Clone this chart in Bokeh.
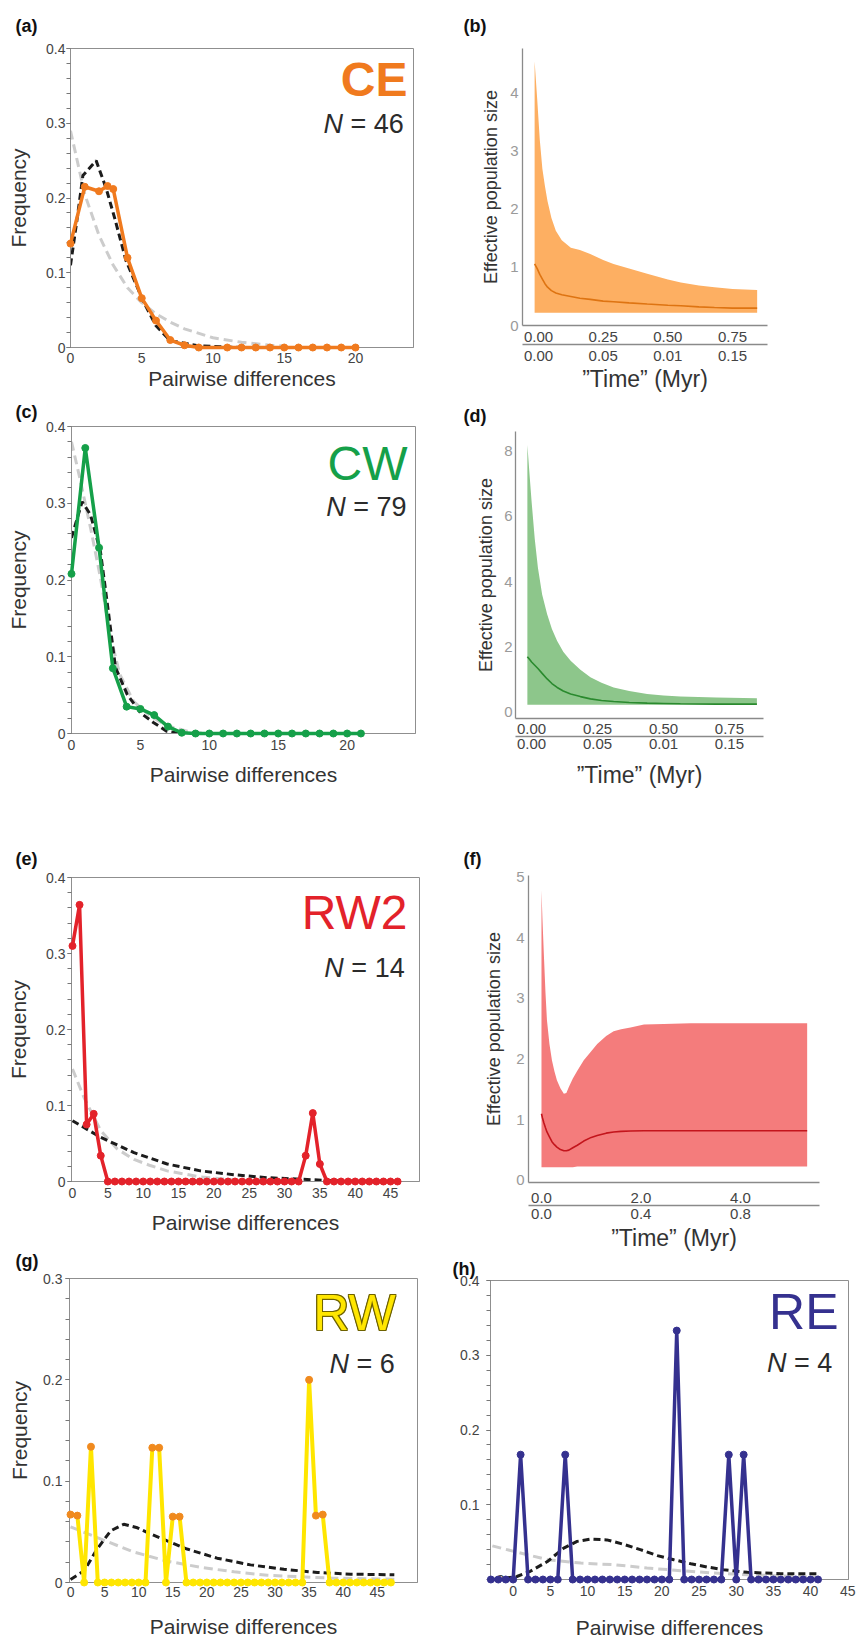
from bokeh.plotting import figure
from bokeh.layouts import row, column
from bokeh.models import Range1d, FixedTicker, LinearAxis, Label
from bokeh.embed import file_html
from bokeh.resources import INLINE

FONT = "Liberation Sans"

# ---------------- data: mismatch distributions ----------------
# (a) CE
ce_x = [0, 1, 2, 2.6, 3, 4, 5, 6, 7, 8, 9, 11, 12, 13, 14, 15, 16, 17, 18, 19, 20]
ce_y = [0.139, 0.215, 0.209, 0.216, 0.212, 0.12, 0.066, 0.036, 0.01, 0.003, 0.0,
        0, 0, 0, 0, 0, 0, 0, 0, 0, 0]
ce_sim_x = [0, 0.45, 0.87, 1.8, 2.5, 3.1, 3.9, 5.1, 6.0, 7.0, 9.1, 12.0]
ce_sim_y = [0.11, 0.17, 0.23, 0.25, 0.213, 0.173, 0.116, 0.062, 0.029, 0.009, 0.002, 0.0]
ce_con_x = [0, 1, 2, 3, 4, 5, 6, 7, 8, 10, 12, 14, 15]
ce_con_y = [0.29, 0.205, 0.15, 0.11, 0.08, 0.06, 0.045, 0.034, 0.025, 0.013, 0.007, 0.003, 0.002]

# (c) CW
cw_x = [0, 1, 2, 3, 4, 5, 6, 7, 8, 9, 10, 11, 12, 13, 14, 15, 16, 17, 18, 19, 20, 21]
cw_y = [0.208, 0.372, 0.242, 0.085, 0.035, 0.032, 0.024, 0.009, 0.001,
        0, 0, 0, 0, 0, 0, 0, 0, 0, 0, 0, 0, 0]
cw_sim_x = [0, 0.77, 1.38, 2.1, 2.58, 3.19, 4.04, 5.0, 5.97, 6.9, 7.9]
cw_sim_y = [0.255, 0.302, 0.285, 0.237, 0.172, 0.086, 0.051, 0.027, 0.014, 0.003, 0.0]
cw_con_x = [0, 0.6, 1.38, 2.1, 2.8, 3.5, 4.5, 5.7, 6.9, 8.4, 9.8]
cw_con_y = [0.38, 0.333, 0.268, 0.203, 0.129, 0.077, 0.042, 0.023, 0.01, 0.003, 0.0]

# (e) RW2
rw2_x = list(range(0, 47))
rw2_y = ([0.31, 0.364, 0.075, 0.089, 0.034] + [0] * 28 +
         [0.034, 0.09, 0.023] + [0] * 11)
rw2_sim_x = [0, 4, 8.7, 13.4, 18.1, 22.8, 27.5, 32.3, 37.0, 46]
rw2_sim_y = [0.08, 0.058, 0.038, 0.023, 0.014, 0.009, 0.005, 0.003, 0.001, 0.0]
rw2_con_x = [0, 1.65, 4, 6.3, 8.7, 11, 13.4, 18.1, 22.8, 27.5]
rw2_con_y = [0.148, 0.11, 0.067, 0.043, 0.029, 0.021, 0.014, 0.006, 0.002, 0.0]

# (g) RW
rw_x = list(range(0, 48))
rw_y = ([0.067, 0.066, 0, 0.134, 0] + [0] * 7 + [0.133, 0.133, 0, 0.065, 0.065, 0] +
        [0] * 17 + [0.2, 0.066, 0.067, 0] + [0] * 9)
rw_sim_x = [0, 2, 3.9, 5.9, 7.8, 9.8, 11.7, 14.2, 17.1, 21.5, 26.4, 31.3, 36.2, 41.1, 47.5]
rw_sim_y = [0.003, 0.0115, 0.033, 0.051, 0.0575, 0.054, 0.048, 0.041, 0.033, 0.024,
            0.0174, 0.013, 0.0099, 0.0082, 0.0076]
rw_con_x = [0, 4.4, 9.3, 14.2, 19.1, 24, 28.9, 33.8, 38.6, 47.5]
rw_con_y = [0.055, 0.043, 0.03, 0.021, 0.015, 0.0105, 0.0072, 0.0056, 0.0043, 0.0033]

# (h) RE
re_x = list(range(-3, 42))
re_y = ([0] * 4 + [0.167] + [0] * 5 + [0.167] + [0] * 14 + [0.333] + [0] * 6 +
        [0.167, 0, 0.167] + [0] * 10)
re_sim_x = [-2.6, 0.5, 2.3, 4.6, 6.8, 8.6, 10.4, 12.6, 14.9, 17.1, 19.4, 21.6, 23.9,
            26.1, 28.3, 31.5, 36, 41.1]
re_sim_y = [0.0, 0.004, 0.011, 0.024, 0.042, 0.051, 0.054, 0.053, 0.047, 0.040, 0.032,
            0.0265, 0.021, 0.0167, 0.0131, 0.0096, 0.0078, 0.0078]
re_con_x = [-2.8, 0.1, 4.6, 9.1, 13.5, 18, 22.5, 27, 31.5, 36, 41.1]
re_con_y = [0.045, 0.0376, 0.0265, 0.022, 0.0198, 0.0154, 0.0118, 0.0087, 0.0065, 0.0047, 0.0029]

# ---------------- data: Bayesian skyline plots ----------------
# (b) CE
b_time = [-0.015, -0.005, 0.005, 0.015, 0.025, 0.035, 0.05, 0.067, 0.09, 0.125, 0.16,
          0.2, 0.25, 0.29, 0.35, 0.42, 0.5, 0.55, 0.62, 0.68, 0.75, 0.845]
b_upper = [4.55, 3.9, 3.2, 2.7, 2.4, 2.14, 1.85, 1.63, 1.47, 1.34, 1.30,
           1.23, 1.13, 1.06, 0.98, 0.89, 0.79, 0.74, 0.69, 0.66, 0.63, 0.61]
b_median = [1.06, 0.98, 0.88, 0.80, 0.72, 0.66, 0.60, 0.56, 0.53, 0.50, 0.47,
            0.45, 0.42, 0.41, 0.39, 0.37, 0.35, 0.34, 0.32, 0.31, 0.30, 0.30]
b_lower = [0.22] * 22

# (d) CW
d_time = [-0.016, -0.008, 0.0, 0.012, 0.024, 0.04, 0.059, 0.077, 0.097, 0.12, 0.148,
          0.185, 0.223, 0.265, 0.311, 0.37, 0.438, 0.5, 0.564, 0.7, 0.854]
d_upper = [8.18, 7.3, 6.45, 5.3, 4.42, 3.6, 3.0, 2.55, 2.18, 1.85, 1.58,
           1.3, 1.07, 0.9, 0.76, 0.65, 0.56, 0.51, 0.48, 0.45, 0.43]
d_median = [1.70, 1.62, 1.54, 1.44, 1.34, 1.19, 1.02, 0.88, 0.76, 0.65, 0.56,
            0.48, 0.41, 0.36, 0.33, 0.30, 0.28, 0.27, 0.26, 0.25, 0.25]
d_lower = [0.23] * 21

# (f) RW2
f_time = [0.0, 0.02, 0.047, 0.08, 0.11, 0.16, 0.21, 0.26, 0.31, 0.38, 0.45, 0.5, 0.55,
          0.63, 0.72, 0.85, 1.0, 1.12, 1.3, 1.45, 1.6, 1.79, 2.06, 2.46, 3.0, 4.0, 5.34]
f_upper = [4.78, 4.3, 3.74, 3.1, 2.64, 2.25, 1.98, 1.8, 1.65, 1.52, 1.43, 1.44, 1.54,
           1.68, 1.81, 1.98, 2.13, 2.25, 2.38, 2.46, 2.49, 2.52, 2.57, 2.58, 2.59, 2.59, 2.59]
f_median = [1.10, 1.03, 0.95, 0.87, 0.80, 0.72, 0.64, 0.59, 0.55, 0.51, 0.49, 0.49, 0.50,
            0.54, 0.58, 0.65, 0.71, 0.74, 0.78, 0.80, 0.81, 0.815, 0.82, 0.82, 0.82, 0.82, 0.82]
f_lower = [0.22] * 14 + [0.23] * 13

# tick labels
b_ticks = [0, 0.25, 0.5, 0.75]
b_labels_top = ["0.00", "0.25", "0.50", "0.75"]
b_labels_bottom = ["0.00", "0.05", "0.01", "0.15"]
f_ticks = [0, 2, 4]
f_labels_top = ["0.0", "2.0", "4.0"]
f_labels_bottom = ["0.0", "0.4", "0.8"]

TIME_LABEL = "\u201dTime\u201d (Myr)"


def no_align(p):
    try:
        p.frame_align = False
    except Exception:
        pass


def style_title(p, tag, offset, standoff):
    p.title.text = tag
    p.title.text_font = FONT
    p.title.text_font_size = "18px"
    p.title.text_font_style = "bold"
    p.title.text_color = "#111111"
    p.title.align = "left"
    p.title.offset = offset
    p.title.standoff = standoff


def freq_panel(w, h, borders, xr, yr, xticks, yticks, tag, toff, tso,
               ytso, ylso, xtso, xlso, ylabel=True):
    bl, br, bt, bb = borders
    p = figure(width=w, height=h, x_range=Range1d(*xr), y_range=Range1d(*yr),
               output_backend="svg", toolbar_location=None,
               min_border_left=bl, min_border_right=br,
               min_border_top=bt, min_border_bottom=bb)
    no_align(p)
    p.grid.visible = False
    p.outline_line_color = "#8f8f8f"
    p.outline_line_width = 1
    p.background_fill_color = "white"
    p.border_fill_color = "white"
    style_title(p, tag, toff, tso)

    xa = p.xaxis[0]
    xa.ticker = FixedTicker(ticks=xticks)
    xa.major_tick_out = 0
    xa.major_tick_in = 0
    xa.minor_tick_out = 0
    xa.minor_tick_in = 0
    xa.axis_line_color = "#8f8f8f"
    xa.major_label_text_font = FONT
    xa.major_label_text_font_size = "14px"
    xa.major_label_text_color = "#444444"
    xa.major_label_standoff = xtso
    xa.axis_label = "Pairwise differences"
    xa.axis_label_text_font = FONT
    xa.axis_label_text_font_size = "21px"
    xa.axis_label_text_font_style = "normal"
    xa.axis_label_text_color = "#333333"
    xa.axis_label_standoff = xlso

    ya = p.yaxis[0]
    n_minor = int(round(yr[1] / 0.02))
    ya.ticker = FixedTicker(ticks=yticks, minor_ticks=[round(0.02 * i, 2) for i in range(n_minor + 1)])
    ya.major_tick_out = 4
    ya.major_tick_in = 0
    ya.minor_tick_out = 4
    ya.minor_tick_in = 0
    ya.major_tick_line_color = "#777777"
    ya.minor_tick_line_color = "#777777"
    ya.axis_line_color = "#8f8f8f"
    ya.major_label_text_font = FONT
    ya.major_label_text_font_size = "14px"
    ya.major_label_text_color = "#444444"
    ya.major_label_standoff = ytso
    ya.major_label_overrides = {0: "0"}
    if ylabel:
        ya.axis_label = "Frequency"
        ya.axis_label_text_font = FONT
        ya.axis_label_text_font_size = "21px"
        ya.axis_label_text_font_style = "normal"
        ya.axis_label_text_color = "#333333"
        ya.axis_label_standoff = ylso
    return p


def freq_lines(p, x, y, sx, sy, cx, cy, color, width=3.5, marker_colors=None):
    p.line(cx, cy, line_color="#cccccc", line_width=3, line_dash="9 5")
    p.line(sx, sy, line_color="#1c1c1c", line_width=3, line_dash="7 4")
    p.line(x, y, line_color=color, line_width=width, line_join="round", level="overlay")
    mc = color if marker_colors is None else marker_colors
    p.scatter(x, y, size=7, fill_color=mc, line_color=mc, level="overlay")


def pop_labels(p, name, color, pos, npos, n, size, bold=False, outline=None):
    x, y = pos
    style = "bold" if bold else "normal"
    if outline is not None:
        for dx, dy in [(-1, 0), (1, 0), (0, -1), (0, 1), (-1, -1), (1, 1), (-1, 1), (1, -1)]:
            p.add_layout(Label(x=x, y=y, x_offset=dx, y_offset=dy, text=name,
                               text_align="right", text_baseline="middle",
                               text_font=FONT, text_font_size=f"{size}px",
                               text_font_style=style, text_color=outline))
    p.add_layout(Label(x=x, y=y, text=name, text_align="right", text_baseline="middle",
                       text_font=FONT, text_font_size=f"{size}px",
                       text_font_style=style, text_color=color))
    nx, ny = npos
    fs = 27
    rest = f"= {n}"
    rest_w = fs * (0.584 + 0.278 + 0.556 * len(str(n)))
    p.add_layout(Label(x=nx, y=ny, text=rest, text_align="right", text_baseline="middle",
                       text_font=FONT, text_font_size=f"{fs}px", text_color="#2b2b2b"))
    p.add_layout(Label(x=nx, y=ny, x_offset=-(rest_w + 0.278 * fs), text="N",
                       text_align="right", text_baseline="middle",
                       text_font=FONT, text_font_size=f"{fs}px", text_font_style="italic",
                       text_color="#2b2b2b"))


def bsp_panel(w, h, borders, xr, yr, yticks, xticks, lab_top, lab_bot, tag, toff, tso,
              ytso, ylso, x1so, x2so, xlso, t, lo, up, med, fill, line):
    bl, br, bt, bb = borders
    p = figure(width=w, height=h, x_range=Range1d(*xr), y_range=Range1d(*yr),
               output_backend="svg", toolbar_location=None,
               min_border_left=bl, min_border_right=br,
               min_border_top=bt, min_border_bottom=bb)
    no_align(p)
    p.grid.visible = False
    p.outline_line_color = None
    style_title(p, tag, toff, tso)

    ya = p.yaxis[0]
    ya.ticker = FixedTicker(ticks=yticks)
    ya.major_tick_out = 0
    ya.major_tick_in = 0
    ya.minor_tick_out = 0
    ya.minor_tick_in = 0
    ya.axis_line_color = "#8a8a8a"
    ya.axis_line_width = 1.3
    ya.major_label_text_font = FONT
    ya.major_label_text_font_size = "15px"
    ya.major_label_text_color = "#9a9a9a"
    ya.major_label_standoff = ytso
    ya.axis_label = "Effective population size"
    ya.axis_label_text_font = FONT
    ya.axis_label_text_font_size = "18px"
    ya.axis_label_text_font_style = "normal"
    ya.axis_label_text_color = "#333333"
    ya.axis_label_standoff = ylso

    xa = p.xaxis[0]
    xa.ticker = FixedTicker(ticks=xticks)
    xa.major_label_overrides = dict(zip(xticks, lab_top))
    xa2 = LinearAxis(ticker=FixedTicker(ticks=xticks),
                     major_label_overrides=dict(zip(xticks, lab_bot)))
    p.add_layout(xa2, "below")
    for a, so in [(xa, x1so), (xa2, x2so)]:
        a.major_tick_out = 0
        a.major_tick_in = 0
        a.minor_tick_out = 0
        a.minor_tick_in = 0
        a.axis_line_color = "#8a8a8a"
        a.axis_line_width = 1.3
        a.major_label_text_font = FONT
        a.major_label_text_font_size = "15px"
        a.major_label_text_color = "#444444"
        a.major_label_standoff = so
    xa2.axis_label = TIME_LABEL
    xa2.axis_label_text_font = FONT
    xa2.axis_label_text_font_size = "23px"
    xa2.axis_label_text_font_style = "normal"
    xa2.axis_label_text_color = "#333333"
    xa2.axis_label_standoff = xlso

    p.varea(x=t, y1=lo, y2=up, fill_color=fill, fill_alpha=1.0)
    p.line(t, med, line_color=line, line_width=1.6)
    return p


LW, RWD = 430, 427

# ---------------- left column ----------------
pa = freq_panel(LW, 394, (70, 17, 47, 47), (0, 24.07), (0, 0.4), [0, 5, 10, 15, 20],
                [0, 0.1, 0.2, 0.3, 0.4], "(a)", -55, 26, 1, 13, 5, 1)
freq_lines(pa, ce_x, ce_y, ce_sim_x, ce_sim_y, ce_con_x, ce_con_y, "#F07A1E")
pop_labels(pa, "CE", "#F07A1E", (23.65, 0.359), (23.39, 0.299), 46, 48, bold=True)

pc = freq_panel(LW, 406, (71, 15, 31, 67), (0, 24.96), (0, 0.4), [0, 5, 10, 15, 20],
                [0, 0.1, 0.2, 0.3, 0.4], "(c)", -56, 10, 2, 13, 6, 10)
freq_lines(pc, cw_x, cw_y, cw_sim_x, cw_sim_y, cw_con_x, cw_con_y, "#15A049")
pop_labels(pc, "CW", "#15A049", (24.38, 0.352), (24.31, 0.295), 79, 48)

pe = freq_panel(LW, 440, (71, 11, 77, 59), (-0.14, 49.1), (0, 0.4),
                [0, 5, 10, 15, 20, 25, 30, 35, 40, 45],
                [0, 0.1, 0.2, 0.3, 0.4], "(e)", -56, 18, 2, 13, 6, 10)
freq_lines(pe, rw2_x, rw2_y, rw2_sim_x, rw2_sim_y, rw2_con_x, rw2_con_y, "#E3222A")
pop_labels(pe, "RW2", "#E3222A", (47.4, 0.354), (47.0, 0.2805), 14, 48)

rw_marker_colors = ["#F08A1E" if v > 0 else "#FFE600" for v in rw_y]
pg = freq_panel(LW, 402, (69, 13, 37, 60), (-0.15, 50.9), (0, 0.3),
                [0, 5, 10, 15, 20, 25, 30, 35, 40, 45],
                [0, 0.1, 0.2, 0.3], "(g)", -54, 16, 3, 9, 4, 15)
freq_lines(pg, rw_x, rw_y, rw_sim_x, rw_sim_y, rw_con_x, rw_con_y, "#FFE600",
           width=4, marker_colors=rw_marker_colors)
pop_labels(pg, "RW", "#FFE600", (47.7, 0.266), (47.56, 0.216), 6, 50, outline="#6e6200")

# ---------------- right column ----------------
pb = bsp_panel(RWD, 397, (92, 90, 47, 72), (-0.0618, 0.885), (0, 4.77), [0, 1, 2, 3, 4],
               b_ticks, b_labels_top, b_labels_bottom, "(b)", -59, 26, 4, 6, 6, 6, 2,
               b_time, b_lower, b_upper, b_median, "#FDAF62", "#DE7412")

pd_ = bsp_panel(RWD, 403, (85, 94, 33, 82), (-0.061, 0.879), (-0.19, 8.59), [0, 2, 4, 6, 8],
                b_ticks, b_labels_top, b_labels_bottom, "(d)", -52, 12, 3, 5, 5, 2, 10,
                d_time, d_lower, d_upper, d_median, "#8DC68B", "#2A8A2E")

pf = bsp_panel(RWD, 454, (98, 38, 75, 72), (-0.261, 5.588), (-0.033, 5.025),
               [0, 1, 2, 3, 4, 5], f_ticks, f_labels_top, f_labels_bottom, "(f)", -65, 14,
               4, 9, 10, 3, 3,
               f_time, f_lower, f_upper, f_median, "#F47C7C", "#C3151C")

ph = freq_panel(RWD, 388, (60, 9, 25, 63), (-3.05, 45.1), (0, 0.4),
                [0, 5, 10, 15, 20, 25, 30, 35, 40, 45],
                [0.1, 0.2, 0.3, 0.4], "(h)", -38, 4, 7, 10, 6, 17, ylabel=False)
freq_lines(ph, re_x, re_y, re_sim_x, re_sim_y, re_con_x, re_con_y, "#35318F")
pop_labels(ph, "RE", "#35318F", (43.76, 0.358), (42.92, 0.289), 4, 50)
ph.add_layout(Label(x=-1.7, y=0, text="0", text_align="center", text_baseline="middle",
                    text_font=FONT, text_font_size="14px", text_color="#444444"))

layout = row(column(pa, pc, pe, pg), column(pb, pd_, pf, ph))

open("out.html", "w").write(file_html(layout, INLINE))
